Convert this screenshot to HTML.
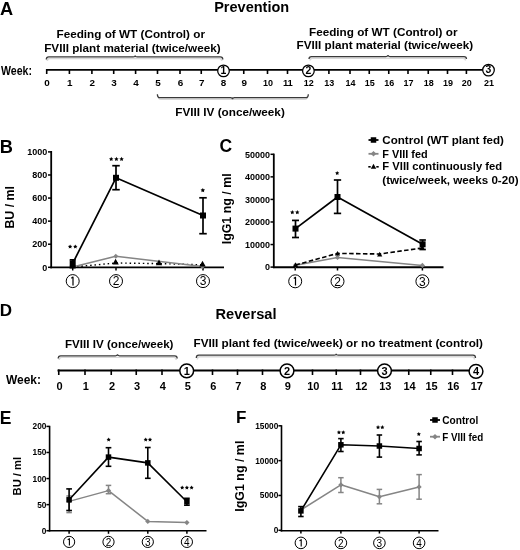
<!DOCTYPE html>
<html><head><meta charset="utf-8"><style>
html,body{margin:0;padding:0;background:#fff;}
body{width:520px;height:550px;overflow:hidden;}
svg{display:block;font-family:"Liberation Sans", sans-serif;will-change:transform;}
</style></head><body>
<svg width="520" height="550" viewBox="0 0 520 550">
<rect width="520" height="550" fill="#fff"/>
<text x="0.0" y="14.7" font-size="18.2" font-weight="bold" text-anchor="start" fill="#000">A</text>
<text x="-0.3" y="152.6" font-size="18.2" font-weight="bold" text-anchor="start" fill="#000">B</text>
<text x="219.6" y="152.3" font-size="17.5" font-weight="bold" text-anchor="start" fill="#000">C</text>
<text x="-0.2" y="315.9" font-size="17" font-weight="bold" text-anchor="start" fill="#000">D</text>
<text x="-0.2" y="423.7" font-size="17.5" font-weight="bold" text-anchor="start" fill="#000">E</text>
<text x="236" y="423.2" font-size="17" font-weight="bold" text-anchor="start" fill="#000">F</text>
<text x="214.2" y="12.0" font-size="14" font-weight="bold" text-anchor="start" fill="#000" textLength="75" lengthAdjust="spacingAndGlyphs">Prevention</text>
<text x="215.5" y="319.2" font-size="14" font-weight="bold" text-anchor="start" fill="#000" textLength="61" lengthAdjust="spacingAndGlyphs">Reversal</text>
<text x="1.0" y="74.8" font-size="12" font-weight="bold" text-anchor="start" fill="#000" textLength="31" lengthAdjust="spacingAndGlyphs">Week:</text>
<line x1="46" y1="69.9" x2="488" y2="69.9" stroke="#000" stroke-width="1.9"/>
<line x1="46.7" y1="69" x2="46.7" y2="74" stroke="#000" stroke-width="1.6"/>
<line x1="69.4" y1="69" x2="69.4" y2="74" stroke="#000" stroke-width="1.6"/>
<line x1="91.9" y1="69" x2="91.9" y2="74" stroke="#000" stroke-width="1.6"/>
<line x1="113.7" y1="69" x2="113.7" y2="74" stroke="#000" stroke-width="1.6"/>
<line x1="135.6" y1="69" x2="135.6" y2="74" stroke="#000" stroke-width="1.6"/>
<line x1="157.5" y1="69" x2="157.5" y2="74" stroke="#000" stroke-width="1.6"/>
<line x1="180" y1="69" x2="180" y2="74" stroke="#000" stroke-width="1.6"/>
<line x1="201.25" y1="69" x2="201.25" y2="74" stroke="#000" stroke-width="1.6"/>
<line x1="243.75" y1="69" x2="243.75" y2="74" stroke="#000" stroke-width="1.6"/>
<line x1="267.5" y1="69" x2="267.5" y2="74" stroke="#000" stroke-width="1.6"/>
<line x1="287.5" y1="69" x2="287.5" y2="74" stroke="#000" stroke-width="1.6"/>
<line x1="328.9" y1="69" x2="328.9" y2="74" stroke="#000" stroke-width="1.6"/>
<line x1="350" y1="69" x2="350" y2="74" stroke="#000" stroke-width="1.6"/>
<line x1="369.25" y1="69" x2="369.25" y2="74" stroke="#000" stroke-width="1.6"/>
<line x1="388.75" y1="69" x2="388.75" y2="74" stroke="#000" stroke-width="1.6"/>
<line x1="408" y1="69" x2="408" y2="74" stroke="#000" stroke-width="1.6"/>
<line x1="428.25" y1="69" x2="428.25" y2="74" stroke="#000" stroke-width="1.6"/>
<line x1="447.5" y1="69" x2="447.5" y2="74" stroke="#000" stroke-width="1.6"/>
<line x1="466.4" y1="69" x2="466.4" y2="74" stroke="#000" stroke-width="1.6"/>
<text x="47.1" y="86.3" font-size="9.9" font-weight="bold" text-anchor="middle" fill="#000">0</text>
<text x="69.80000000000001" y="86.3" font-size="9.9" font-weight="bold" text-anchor="middle" fill="#000">1</text>
<text x="92.30000000000001" y="86.3" font-size="9.9" font-weight="bold" text-anchor="middle" fill="#000">2</text>
<text x="114.10000000000001" y="86.3" font-size="9.9" font-weight="bold" text-anchor="middle" fill="#000">3</text>
<text x="136.0" y="86.3" font-size="9.9" font-weight="bold" text-anchor="middle" fill="#000">4</text>
<text x="157.9" y="86.3" font-size="9.9" font-weight="bold" text-anchor="middle" fill="#000">5</text>
<text x="180.4" y="86.3" font-size="9.9" font-weight="bold" text-anchor="middle" fill="#000">6</text>
<text x="201.65" y="86.3" font-size="9.9" font-weight="bold" text-anchor="middle" fill="#000">7</text>
<text x="223.4" y="86.3" font-size="9.9" font-weight="bold" text-anchor="middle" fill="#000">8</text>
<text x="244.15" y="86.3" font-size="9.9" font-weight="bold" text-anchor="middle" fill="#000">9</text>
<text x="267.9" y="86.3" font-size="9.9" font-weight="bold" text-anchor="middle" fill="#000" textLength="10.0" lengthAdjust="spacingAndGlyphs">10</text>
<text x="287.9" y="86.3" font-size="9.9" font-weight="bold" text-anchor="middle" fill="#000" textLength="10.0" lengthAdjust="spacingAndGlyphs">11</text>
<text x="308.79999999999995" y="86.3" font-size="9.9" font-weight="bold" text-anchor="middle" fill="#000" textLength="10.0" lengthAdjust="spacingAndGlyphs">12</text>
<text x="329.29999999999995" y="86.3" font-size="9.9" font-weight="bold" text-anchor="middle" fill="#000" textLength="10.0" lengthAdjust="spacingAndGlyphs">13</text>
<text x="350.4" y="86.3" font-size="9.9" font-weight="bold" text-anchor="middle" fill="#000" textLength="10.0" lengthAdjust="spacingAndGlyphs">14</text>
<text x="369.65" y="86.3" font-size="9.9" font-weight="bold" text-anchor="middle" fill="#000" textLength="10.0" lengthAdjust="spacingAndGlyphs">15</text>
<text x="389.15" y="86.3" font-size="9.9" font-weight="bold" text-anchor="middle" fill="#000" textLength="10.0" lengthAdjust="spacingAndGlyphs">16</text>
<text x="408.4" y="86.3" font-size="9.9" font-weight="bold" text-anchor="middle" fill="#000" textLength="10.0" lengthAdjust="spacingAndGlyphs">17</text>
<text x="428.65" y="86.3" font-size="9.9" font-weight="bold" text-anchor="middle" fill="#000" textLength="10.0" lengthAdjust="spacingAndGlyphs">18</text>
<text x="447.9" y="86.3" font-size="9.9" font-weight="bold" text-anchor="middle" fill="#000" textLength="10.0" lengthAdjust="spacingAndGlyphs">19</text>
<text x="466.79999999999995" y="86.3" font-size="9.9" font-weight="bold" text-anchor="middle" fill="#000" textLength="10.0" lengthAdjust="spacingAndGlyphs">20</text>
<text x="488.9" y="86.3" font-size="9.9" font-weight="bold" text-anchor="middle" fill="#000" textLength="10.0" lengthAdjust="spacingAndGlyphs">21</text>
<path d="M47.3,60.9 Q47.3,58.5 49.8,58.5 L219.3,58.5 Q221.8,58.5 221.8,60.9" fill="none" stroke="#d8d8d8" stroke-width="1.4"/>
<path d="M46.3,59.4 Q46.3,56.9 48.8,56.9 L133.2,56.9 Q135.2,56.9 135.2,55.4 Q135.2,56.9 137.2,56.9 L220.3,56.9 Q222.8,56.9 222.8,59.4" fill="none" stroke="#3a3a3a" stroke-width="1.3"/>
<path d="M310,60.6 Q310,58.2 312.5,58.2 L463.0,58.2 Q465.5,58.2 465.5,60.6" fill="none" stroke="#d8d8d8" stroke-width="1.4"/>
<path d="M309,59.1 Q309,56.6 311.5,56.6 L386,56.6 Q388,56.6 388,55.1 Q388,56.6 390,56.6 L464.0,56.6 Q466.5,56.6 466.5,59.1" fill="none" stroke="#3a3a3a" stroke-width="1.3"/>
<path d="M158.4,95.7 Q158.4,99.3 160.9,99.3 L304.8,99.3 Q307.3,99.3 307.3,95.7" fill="none" stroke="#d8d8d8" stroke-width="1.4"/>
<path d="M157.4,94.2 Q157.4,97.7 159.9,97.7 L230.5,97.7 Q232.5,97.7 232.5,99.2 Q232.5,97.7 234.5,97.7 L305.8,97.7 Q308.3,97.7 308.3,94.2" fill="none" stroke="#3a3a3a" stroke-width="1.3"/>
<text x="56.5" y="37.5" font-size="10.6" font-weight="bold" text-anchor="start" fill="#000" textLength="148.5" lengthAdjust="spacingAndGlyphs">Feeding of WT (Control) or</text>
<text x="44.2" y="51.6" font-size="10.6" font-weight="bold" text-anchor="start" fill="#000" textLength="176.5" lengthAdjust="spacingAndGlyphs">FVIII plant material (twice/week)</text>
<text x="309" y="35.6" font-size="10.6" font-weight="bold" text-anchor="start" fill="#000" textLength="148.5" lengthAdjust="spacingAndGlyphs">Feeding of WT (Control) or</text>
<text x="296.6" y="49.4" font-size="10.6" font-weight="bold" text-anchor="start" fill="#000" textLength="176.5" lengthAdjust="spacingAndGlyphs">FVIII plant material (twice/week)</text>
<text x="175.3" y="116" font-size="11" font-weight="bold" text-anchor="start" fill="#000" textLength="109.5" lengthAdjust="spacingAndGlyphs">FVIII IV (once/week)</text>
<circle cx="223.5" cy="70.9" r="5.8" fill="#fff" stroke="#000" stroke-width="1.25"/>
<text x="223.5" y="74.10000000000001" font-size="10.4" font-weight="bold" text-anchor="middle" fill="#000">1</text>
<circle cx="308.4" cy="70.9" r="5.8" fill="#fff" stroke="#000" stroke-width="1.25"/>
<text x="308.4" y="74.10000000000001" font-size="10.4" font-weight="bold" text-anchor="middle" fill="#000">2</text>
<circle cx="488.5" cy="70.1" r="5.8" fill="#fff" stroke="#000" stroke-width="1.25"/>
<text x="488.5" y="73.3" font-size="10.4" font-weight="bold" text-anchor="middle" fill="#000">3</text>
<line x1="51.2" y1="151.0" x2="51.2" y2="268.3" stroke="#000" stroke-width="1.8"/>
<line x1="50.3" y1="267.4" x2="224" y2="267.4" stroke="#000" stroke-width="1.9"/>
<line x1="48" y1="267.3" x2="51.2" y2="267.3" stroke="#000" stroke-width="1.5"/>
<text x="47.3" y="270.5" font-size="9.0" font-weight="bold" text-anchor="end" fill="#000">0</text>
<line x1="48" y1="244.22000000000003" x2="51.2" y2="244.22000000000003" stroke="#000" stroke-width="1.5"/>
<text x="47.3" y="247.42000000000002" font-size="9.0" font-weight="bold" text-anchor="end" fill="#000">200</text>
<line x1="48" y1="221.14000000000001" x2="51.2" y2="221.14000000000001" stroke="#000" stroke-width="1.5"/>
<text x="47.3" y="224.34" font-size="9.0" font-weight="bold" text-anchor="end" fill="#000">400</text>
<line x1="48" y1="198.06" x2="51.2" y2="198.06" stroke="#000" stroke-width="1.5"/>
<text x="47.3" y="201.26" font-size="9.0" font-weight="bold" text-anchor="end" fill="#000">600</text>
<line x1="48" y1="174.98000000000002" x2="51.2" y2="174.98000000000002" stroke="#000" stroke-width="1.5"/>
<text x="47.3" y="178.18" font-size="9.0" font-weight="bold" text-anchor="end" fill="#000">800</text>
<line x1="48" y1="151.9" x2="51.2" y2="151.9" stroke="#000" stroke-width="1.5"/>
<text x="47.3" y="155.1" font-size="9.0" font-weight="bold" text-anchor="end" fill="#000">1000</text>
<line x1="72.7" y1="267.3" x2="72.7" y2="270.5" stroke="#000" stroke-width="1.5"/>
<line x1="116" y1="267.3" x2="116" y2="270.5" stroke="#000" stroke-width="1.5"/>
<line x1="203" y1="267.3" x2="203" y2="270.5" stroke="#000" stroke-width="1.5"/>
<circle cx="72.7" cy="281.1" r="6.5" fill="#fff" stroke="#000" stroke-width="1.0"/>
<path d="M71.3,278.3 L73.0,277.1 L73.0,285.40000000000003" fill="none" stroke="#000" stroke-width="1.2" stroke-linejoin="round"/>
<circle cx="116" cy="281.1" r="6.5" fill="#fff" stroke="#000" stroke-width="1.0"/>
<text x="116" y="285.40000000000003" font-size="12" font-weight="normal" text-anchor="middle" fill="#000">2</text>
<circle cx="203" cy="281.1" r="6.5" fill="#fff" stroke="#000" stroke-width="1.0"/>
<text x="203" y="285.40000000000003" font-size="12" font-weight="normal" text-anchor="middle" fill="#000">3</text>
<text x="14.0" y="207.3" font-size="12.2" font-weight="bold" text-anchor="middle" fill="#000" textLength="42.5" lengthAdjust="spacingAndGlyphs" transform="rotate(-90 14.0 207.3)">BU / ml</text>
<polyline points="72.6,267 116,263.0 159,263.6 202.5,264.8" fill="none" stroke="#000" stroke-width="1.4" stroke-linejoin="round" stroke-dasharray="1.5,2.9"/>
<polyline points="72.6,267 115.8,256.3 202.5,266.5" fill="none" stroke="#858585" stroke-width="1.5" stroke-linejoin="round"/>
<path d="M115.8,253.8 L118.3,256.3 L115.8,258.8 L113.3,256.3Z" fill="#858585"/>
<path d="M202.5,264.0 L205.0,266.5 L202.5,269.0 L200.0,266.5Z" fill="#858585"/>
<path d="M72.6,262.8 L75.8,268.56 L69.39999999999999,268.56Z" fill="#000"/>
<path d="M115.6,258.8 L118.8,264.56 L112.39999999999999,264.56Z" fill="#000"/>
<path d="M159,259.40000000000003 L162.2,265.16 L155.8,265.16Z" fill="#000"/>
<path d="M202.5,260.8 L205.7,266.56 L199.3,266.56Z" fill="#000"/>
<polyline points="72.7,263.3 116,177.8 203,215.5" fill="none" stroke="#000" stroke-width="1.7" stroke-linejoin="round"/>
<line x1="116" y1="165.7" x2="116" y2="189.7" stroke="#000" stroke-width="1.7"/>
<line x1="112.25" y1="165.7" x2="119.75" y2="165.7" stroke="#000" stroke-width="1.7"/>
<line x1="112.25" y1="189.7" x2="119.75" y2="189.7" stroke="#000" stroke-width="1.7"/>
<line x1="203" y1="197.8" x2="203" y2="233.7" stroke="#000" stroke-width="1.7"/>
<line x1="199.25" y1="197.8" x2="206.75" y2="197.8" stroke="#000" stroke-width="1.7"/>
<line x1="199.25" y1="233.7" x2="206.75" y2="233.7" stroke="#000" stroke-width="1.7"/>
<line x1="72.7" y1="259.8" x2="72.7" y2="266.5" stroke="#000" stroke-width="1.6"/>
<line x1="69.7" y1="259.8" x2="75.7" y2="259.8" stroke="#000" stroke-width="1.6"/>
<line x1="69.7" y1="266.5" x2="75.7" y2="266.5" stroke="#000" stroke-width="1.6"/>
<rect x="69.70" y="260.30" width="6" height="6" fill="#000"/>
<rect x="113.00" y="174.80" width="6" height="6" fill="#000"/>
<rect x="200.00" y="212.50" width="6" height="6" fill="#000"/>
<polygon points="70.10,244.42 70.78,245.79 72.29,246.01 71.19,247.08 71.45,248.58 70.10,247.87 68.75,248.58 69.01,247.08 67.91,246.01 69.42,245.79" fill="#000"/>
<polygon points="75.30,244.42 75.98,245.79 77.49,246.01 76.39,247.08 76.65,248.58 75.30,247.87 73.95,248.58 74.21,247.08 73.11,246.01 74.62,245.79" fill="#000"/>
<polygon points="111.20,156.82 111.88,158.19 113.39,158.41 112.29,159.48 112.55,160.98 111.20,160.27 109.85,160.98 110.11,159.48 109.01,158.41 110.52,158.19" fill="#000"/>
<polygon points="116.40,156.82 117.08,158.19 118.59,158.41 117.49,159.48 117.75,160.98 116.40,160.27 115.05,160.98 115.31,159.48 114.21,158.41 115.72,158.19" fill="#000"/>
<polygon points="121.60,156.82 122.28,158.19 123.79,158.41 122.69,159.48 122.95,160.98 121.60,160.27 120.25,160.98 120.51,159.48 119.41,158.41 120.92,158.19" fill="#000"/>
<polygon points="202.80,187.97 203.49,189.37 205.03,189.60 203.92,190.69 204.18,192.23 202.80,191.50 201.42,192.23 201.68,190.69 200.57,189.60 202.11,189.37" fill="#000"/>
<line x1="273.8" y1="153.6" x2="273.8" y2="268.1" stroke="#000" stroke-width="1.8"/>
<line x1="272.9" y1="267.2" x2="443.5" y2="267.2" stroke="#000" stroke-width="1.9"/>
<line x1="270.5" y1="267.1" x2="273.8" y2="267.1" stroke="#000" stroke-width="1.5"/>
<text x="270.0" y="270.3" font-size="9.0" font-weight="bold" text-anchor="end" fill="#000">0</text>
<line x1="270.5" y1="244.54000000000002" x2="273.8" y2="244.54000000000002" stroke="#000" stroke-width="1.5"/>
<text x="270.0" y="247.74" font-size="9.0" font-weight="bold" text-anchor="end" fill="#000">10000</text>
<line x1="270.5" y1="221.98000000000002" x2="273.8" y2="221.98000000000002" stroke="#000" stroke-width="1.5"/>
<text x="270.0" y="225.18" font-size="9.0" font-weight="bold" text-anchor="end" fill="#000">20000</text>
<line x1="270.5" y1="199.42000000000002" x2="273.8" y2="199.42000000000002" stroke="#000" stroke-width="1.5"/>
<text x="270.0" y="202.62" font-size="9.0" font-weight="bold" text-anchor="end" fill="#000">30000</text>
<line x1="270.5" y1="176.86" x2="273.8" y2="176.86" stroke="#000" stroke-width="1.5"/>
<text x="270.0" y="180.06" font-size="9.0" font-weight="bold" text-anchor="end" fill="#000">40000</text>
<line x1="270.5" y1="154.3" x2="273.8" y2="154.3" stroke="#000" stroke-width="1.5"/>
<text x="270.0" y="157.5" font-size="9.0" font-weight="bold" text-anchor="end" fill="#000">50000</text>
<line x1="295.2" y1="267.1" x2="295.2" y2="270.5" stroke="#000" stroke-width="1.5"/>
<line x1="337.5" y1="267.1" x2="337.5" y2="270.5" stroke="#000" stroke-width="1.5"/>
<line x1="422.4" y1="267.1" x2="422.4" y2="270.5" stroke="#000" stroke-width="1.5"/>
<circle cx="295.2" cy="281.3" r="6.5" fill="#fff" stroke="#000" stroke-width="1.0"/>
<path d="M293.8,278.5 L295.5,277.3 L295.5,285.6" fill="none" stroke="#000" stroke-width="1.2" stroke-linejoin="round"/>
<circle cx="337.5" cy="281.3" r="6.5" fill="#fff" stroke="#000" stroke-width="1.0"/>
<text x="337.5" y="285.6" font-size="12" font-weight="normal" text-anchor="middle" fill="#000">2</text>
<circle cx="422.4" cy="281.3" r="6.5" fill="#fff" stroke="#000" stroke-width="1.0"/>
<text x="422.4" y="285.6" font-size="12" font-weight="normal" text-anchor="middle" fill="#000">3</text>
<text x="231.4" y="208.8" font-size="12.2" font-weight="bold" text-anchor="middle" fill="#000" textLength="71" lengthAdjust="spacingAndGlyphs" transform="rotate(-90 231.4 208.8)">IgG1 ng / ml</text>
<polyline points="295.5,265.2 337.5,257.4 422.4,265.4" fill="none" stroke="#858585" stroke-width="1.5" stroke-linejoin="round"/>
<path d="M295.5,262.59999999999997 L298.1,265.2 L295.5,267.8 L292.9,265.2Z" fill="#858585"/>
<path d="M337.5,254.79999999999998 L340.1,257.4 L337.5,260.0 L334.9,257.4Z" fill="#858585"/>
<path d="M422.4,262.79999999999995 L425.0,265.4 L422.4,268.0 L419.79999999999995,265.4Z" fill="#858585"/>
<polyline points="295.5,265.0 337.5,253.4 379.7,254.0 422.2,248.0" fill="none" stroke="#000" stroke-width="1.6" stroke-linejoin="round" stroke-dasharray="4.5,2.4"/>
<path d="M295.5,262.4 L298.1,267.08 L292.9,267.08Z" fill="#000"/>
<path d="M337.5,250.9 L340.1,255.58 L334.9,255.58Z" fill="#000"/>
<path d="M379.7,251.8 L382.3,256.48 L377.09999999999997,256.48Z" fill="#000"/>
<path d="M422.4,245.20000000000002 L425.0,249.88000000000002 L419.79999999999995,249.88000000000002Z" fill="#000"/>
<polyline points="295.5,228.6 337.5,197 422.6,244.3" fill="none" stroke="#000" stroke-width="1.7" stroke-linejoin="round"/>
<line x1="295.5" y1="220.4" x2="295.5" y2="237.5" stroke="#000" stroke-width="1.7"/>
<line x1="292.0" y1="220.4" x2="299.0" y2="220.4" stroke="#000" stroke-width="1.7"/>
<line x1="292.0" y1="237.5" x2="299.0" y2="237.5" stroke="#000" stroke-width="1.7"/>
<line x1="337.5" y1="180" x2="337.5" y2="213.4" stroke="#000" stroke-width="1.7"/>
<line x1="333.85" y1="180" x2="341.15" y2="180" stroke="#000" stroke-width="1.7"/>
<line x1="333.85" y1="213.4" x2="341.15" y2="213.4" stroke="#000" stroke-width="1.7"/>
<line x1="422.6" y1="240" x2="422.6" y2="249.5" stroke="#000" stroke-width="1.7"/>
<line x1="419.35" y1="240" x2="425.85" y2="240" stroke="#000" stroke-width="1.7"/>
<line x1="419.35" y1="249.5" x2="425.85" y2="249.5" stroke="#000" stroke-width="1.7"/>
<rect x="292.50" y="225.60" width="6" height="6" fill="#000"/>
<rect x="334.50" y="194.00" width="6" height="6" fill="#000"/>
<rect x="419.60" y="241.30" width="6" height="6" fill="#000"/>
<polygon points="292.30,210.06 292.96,211.40 294.44,211.62 293.37,212.66 293.62,214.14 292.30,213.44 290.98,214.14 291.23,212.66 290.16,211.62 291.64,211.40" fill="#000"/>
<polygon points="297.30,210.06 297.96,211.40 299.44,211.62 298.37,212.66 298.62,214.14 297.30,213.44 295.98,214.14 296.23,212.66 295.16,211.62 296.64,211.40" fill="#000"/>
<polygon points="337.20,170.91 337.85,172.22 339.29,172.43 338.25,173.45 338.49,174.89 337.20,174.21 335.91,174.89 336.15,173.45 335.11,172.43 336.55,172.22" fill="#000"/>
<line x1="368.5" y1="140" x2="378.5" y2="140" stroke="#000" stroke-width="1.8"/>
<rect x="370.75" y="137.25" width="5.5" height="5.5" fill="#000"/>
<line x1="368.5" y1="153.8" x2="378.5" y2="153.8" stroke="#858585" stroke-width="1.8"/>
<path d="M373.5,151.0 L376.3,153.8 L373.5,156.60000000000002 L370.7,153.8Z" fill="#858585"/>
<line x1="368.3" y1="166.8" x2="370.7" y2="166.8" stroke="#000" stroke-width="1.6"/>
<line x1="376.3" y1="166.8" x2="378.7" y2="166.8" stroke="#000" stroke-width="1.6"/>
<path d="M373.5,163.8 L376.2,168.66 L370.8,168.66Z" fill="#000"/>
<text x="382.3" y="143.7" font-size="10.2" font-weight="bold" text-anchor="start" fill="#000" textLength="121.6" lengthAdjust="spacingAndGlyphs">Control (WT plant fed)</text>
<text x="382.3" y="157.6" font-size="10.2" font-weight="bold" text-anchor="start" fill="#000" textLength="45.4" lengthAdjust="spacingAndGlyphs">F VIII fed</text>
<text x="382.3" y="170.1" font-size="10.2" font-weight="bold" text-anchor="start" fill="#000" textLength="119.8" lengthAdjust="spacingAndGlyphs">F VIII continuously fed</text>
<text x="382.3" y="184.0" font-size="10.2" font-weight="bold" text-anchor="start" fill="#000" textLength="136.2" lengthAdjust="spacingAndGlyphs">(twice/week, weeks 0-20)</text>
<text x="6" y="383.8" font-size="12.3" font-weight="bold" text-anchor="start" fill="#000" textLength="35" lengthAdjust="spacingAndGlyphs">Week:</text>
<line x1="57.5" y1="370.5" x2="476" y2="370.5" stroke="#000" stroke-width="1.9"/>
<line x1="58.75" y1="369.5" x2="58.75" y2="375" stroke="#000" stroke-width="1.6"/>
<line x1="85" y1="369.5" x2="85" y2="375" stroke="#000" stroke-width="1.6"/>
<line x1="111.25" y1="369.5" x2="111.25" y2="375" stroke="#000" stroke-width="1.6"/>
<line x1="136.25" y1="369.5" x2="136.25" y2="375" stroke="#000" stroke-width="1.6"/>
<line x1="162" y1="369.5" x2="162" y2="375" stroke="#000" stroke-width="1.6"/>
<line x1="212.5" y1="369.5" x2="212.5" y2="375" stroke="#000" stroke-width="1.6"/>
<line x1="237.5" y1="369.5" x2="237.5" y2="375" stroke="#000" stroke-width="1.6"/>
<line x1="262.5" y1="369.5" x2="262.5" y2="375" stroke="#000" stroke-width="1.6"/>
<line x1="312.5" y1="369.5" x2="312.5" y2="375" stroke="#000" stroke-width="1.6"/>
<line x1="336.25" y1="369.5" x2="336.25" y2="375" stroke="#000" stroke-width="1.6"/>
<line x1="360.5" y1="369.5" x2="360.5" y2="375" stroke="#000" stroke-width="1.6"/>
<line x1="408.75" y1="369.5" x2="408.75" y2="375" stroke="#000" stroke-width="1.6"/>
<line x1="430.75" y1="369.5" x2="430.75" y2="375" stroke="#000" stroke-width="1.6"/>
<line x1="452.5" y1="369.5" x2="452.5" y2="375" stroke="#000" stroke-width="1.6"/>
<text x="59.55" y="389.6" font-size="11" font-weight="bold" text-anchor="middle" fill="#000">0</text>
<text x="85.8" y="389.6" font-size="11" font-weight="bold" text-anchor="middle" fill="#000">1</text>
<text x="112.05" y="389.6" font-size="11" font-weight="bold" text-anchor="middle" fill="#000">2</text>
<text x="137.05" y="389.6" font-size="11" font-weight="bold" text-anchor="middle" fill="#000">3</text>
<text x="162.8" y="389.6" font-size="11" font-weight="bold" text-anchor="middle" fill="#000">4</text>
<text x="187.8" y="389.6" font-size="11" font-weight="bold" text-anchor="middle" fill="#000">5</text>
<text x="213.3" y="389.6" font-size="11" font-weight="bold" text-anchor="middle" fill="#000">6</text>
<text x="238.3" y="389.6" font-size="11" font-weight="bold" text-anchor="middle" fill="#000">7</text>
<text x="263.3" y="389.6" font-size="11" font-weight="bold" text-anchor="middle" fill="#000">8</text>
<text x="287.8" y="389.6" font-size="11" font-weight="bold" text-anchor="middle" fill="#000">9</text>
<text x="313.3" y="389.6" font-size="11" font-weight="bold" text-anchor="middle" fill="#000">10</text>
<text x="337.05" y="389.6" font-size="11" font-weight="bold" text-anchor="middle" fill="#000">11</text>
<text x="361.3" y="389.6" font-size="11" font-weight="bold" text-anchor="middle" fill="#000">12</text>
<text x="385.3" y="389.6" font-size="11" font-weight="bold" text-anchor="middle" fill="#000">13</text>
<text x="409.55" y="389.6" font-size="11" font-weight="bold" text-anchor="middle" fill="#000">14</text>
<text x="431.55" y="389.6" font-size="11" font-weight="bold" text-anchor="middle" fill="#000">15</text>
<text x="453.3" y="389.6" font-size="11" font-weight="bold" text-anchor="middle" fill="#000">16</text>
<text x="476.8" y="389.6" font-size="11" font-weight="bold" text-anchor="middle" fill="#000">17</text>
<path d="M59.2,360.1 Q59.2,357.40000000000003 61.7,357.40000000000003 L173.7,357.40000000000003 Q176.2,357.40000000000003 176.2,360.1" fill="none" stroke="#d8d8d8" stroke-width="1.4"/>
<path d="M58.2,358.6 Q58.2,355.8 60.7,355.8 L115.5,355.8 Q117.5,355.8 117.5,354.3 Q117.5,355.8 119.5,355.8 L174.7,355.8 Q177.2,355.8 177.2,358.6" fill="none" stroke="#3a3a3a" stroke-width="1.3"/>
<path d="M197.3,359.5 Q197.3,356.8 199.8,356.8 L472.0,356.8 Q474.5,356.8 474.5,359.5" fill="none" stroke="#d8d8d8" stroke-width="1.4"/>
<path d="M196.3,358.0 Q196.3,355.2 198.8,355.2 L334.2,355.2 Q336.2,355.2 336.2,353.7 Q336.2,355.2 338.2,355.2 L473.0,355.2 Q475.5,355.2 475.5,358.0" fill="none" stroke="#3a3a3a" stroke-width="1.3"/>
<text x="65" y="348" font-size="11.6" font-weight="bold" text-anchor="start" fill="#000" textLength="108.5" lengthAdjust="spacingAndGlyphs">FVIII IV (once/week)</text>
<text x="193.5" y="347.2" font-size="11.6" font-weight="bold" text-anchor="start" fill="#000" textLength="289.5" lengthAdjust="spacingAndGlyphs">FVIII plant fed (twice/week) or no treatment (control)</text>
<circle cx="186.7" cy="370.8" r="6.9" fill="#fff" stroke="#000" stroke-width="1.5"/>
<text x="186.7" y="374.75" font-size="11" font-weight="bold" text-anchor="middle" fill="#000">1</text>
<circle cx="287" cy="370.8" r="6.9" fill="#fff" stroke="#000" stroke-width="1.5"/>
<text x="287" y="374.75" font-size="11" font-weight="bold" text-anchor="middle" fill="#000">2</text>
<circle cx="384.5" cy="370.8" r="6.9" fill="#fff" stroke="#000" stroke-width="1.5"/>
<text x="384.5" y="374.75" font-size="11" font-weight="bold" text-anchor="middle" fill="#000">3</text>
<circle cx="476" cy="371.3" r="6.9" fill="#fff" stroke="#000" stroke-width="1.5"/>
<text x="476" y="375.25" font-size="11" font-weight="bold" text-anchor="middle" fill="#000">4</text>
<line x1="49.6" y1="425.8" x2="49.6" y2="531.5" stroke="#000" stroke-width="1.6"/>
<line x1="48.6" y1="530.8" x2="206.5" y2="530.8" stroke="#000" stroke-width="1.6"/>
<line x1="46.4" y1="530.7" x2="49.5" y2="530.7" stroke="#000" stroke-width="1.5"/>
<text x="46.4" y="533.7" font-size="8.3" font-weight="bold" text-anchor="end" fill="#000">0</text>
<line x1="46.4" y1="504.625" x2="49.5" y2="504.625" stroke="#000" stroke-width="1.5"/>
<text x="46.4" y="507.625" font-size="8.3" font-weight="bold" text-anchor="end" fill="#000">50</text>
<line x1="46.4" y1="478.55" x2="49.5" y2="478.55" stroke="#000" stroke-width="1.5"/>
<text x="46.4" y="481.55" font-size="8.3" font-weight="bold" text-anchor="end" fill="#000">100</text>
<line x1="46.4" y1="452.475" x2="49.5" y2="452.475" stroke="#000" stroke-width="1.5"/>
<text x="46.4" y="455.475" font-size="8.3" font-weight="bold" text-anchor="end" fill="#000">150</text>
<line x1="46.4" y1="426.4" x2="49.5" y2="426.4" stroke="#000" stroke-width="1.5"/>
<text x="46.4" y="429.4" font-size="8.3" font-weight="bold" text-anchor="end" fill="#000">200</text>
<line x1="69.1" y1="530.7" x2="69.1" y2="533.8" stroke="#000" stroke-width="1.5"/>
<line x1="108.5" y1="530.7" x2="108.5" y2="533.8" stroke="#000" stroke-width="1.5"/>
<line x1="147.8" y1="530.7" x2="147.8" y2="533.8" stroke="#000" stroke-width="1.5"/>
<line x1="186.9" y1="530.7" x2="186.9" y2="533.8" stroke="#000" stroke-width="1.5"/>
<circle cx="69.1" cy="541.9" r="5.6" fill="#fff" stroke="#000" stroke-width="1.0"/>
<path d="M67.69999999999999,539.85 L69.39999999999999,538.65 L69.39999999999999,545.4499999999999" fill="none" stroke="#000" stroke-width="1.1" stroke-linejoin="round"/>
<circle cx="108.5" cy="541.9" r="5.6" fill="#fff" stroke="#000" stroke-width="1.0"/>
<text x="108.5" y="545.5" font-size="10" font-weight="normal" text-anchor="middle" fill="#000">2</text>
<circle cx="147.8" cy="541.9" r="5.6" fill="#fff" stroke="#000" stroke-width="1.0"/>
<text x="147.8" y="545.5" font-size="10" font-weight="normal" text-anchor="middle" fill="#000">3</text>
<circle cx="186.9" cy="541.9" r="5.6" fill="#fff" stroke="#000" stroke-width="1.0"/>
<text x="186.9" y="545.5" font-size="10" font-weight="normal" text-anchor="middle" fill="#000">4</text>
<text x="21.1" y="476.15" font-size="11.1" font-weight="bold" text-anchor="middle" fill="#000" textLength="38.5" lengthAdjust="spacingAndGlyphs" transform="rotate(-90 21.1 476.15)">BU / ml</text>
<polyline points="69.1,501.4 108.5,490.6 147.8,521.4 186.9,522.6" fill="none" stroke="#858585" stroke-width="1.5" stroke-linejoin="round"/>
<line x1="69.1" y1="496" x2="69.1" y2="512.6" stroke="#858585" stroke-width="1.5"/>
<line x1="66.35" y1="496" x2="71.85" y2="496" stroke="#858585" stroke-width="1.5"/>
<line x1="66.35" y1="512.6" x2="71.85" y2="512.6" stroke="#858585" stroke-width="1.5"/>
<line x1="108.5" y1="485.4" x2="108.5" y2="493.7" stroke="#858585" stroke-width="1.5"/>
<line x1="105.75" y1="485.4" x2="111.25" y2="485.4" stroke="#858585" stroke-width="1.5"/>
<line x1="105.75" y1="493.7" x2="111.25" y2="493.7" stroke="#858585" stroke-width="1.5"/>
<path d="M69.1,498.79999999999995 L71.69999999999999,501.4 L69.1,504.0 L66.5,501.4Z" fill="#858585"/>
<path d="M108.5,488.0 L111.1,490.6 L108.5,493.20000000000005 L105.9,490.6Z" fill="#858585"/>
<path d="M147.8,518.8 L150.4,521.4 L147.8,524.0 L145.20000000000002,521.4Z" fill="#858585"/>
<path d="M186.9,520.0 L189.5,522.6 L186.9,525.2 L184.3,522.6Z" fill="#858585"/>
<polyline points="69.1,499.8 108.5,457.1 147.8,462.9 186.9,501.7" fill="none" stroke="#000" stroke-width="1.6" stroke-linejoin="round"/>
<line x1="69.1" y1="488.9" x2="69.1" y2="510.5" stroke="#000" stroke-width="1.6"/>
<line x1="66.25" y1="488.9" x2="71.94999999999999" y2="488.9" stroke="#000" stroke-width="1.6"/>
<line x1="66.25" y1="510.5" x2="71.94999999999999" y2="510.5" stroke="#000" stroke-width="1.6"/>
<line x1="108.5" y1="447.7" x2="108.5" y2="466.3" stroke="#000" stroke-width="1.6"/>
<line x1="105.65" y1="447.7" x2="111.35" y2="447.7" stroke="#000" stroke-width="1.6"/>
<line x1="105.65" y1="466.3" x2="111.35" y2="466.3" stroke="#000" stroke-width="1.6"/>
<line x1="147.8" y1="447.5" x2="147.8" y2="478.3" stroke="#000" stroke-width="1.6"/>
<line x1="144.95000000000002" y1="447.5" x2="150.65" y2="447.5" stroke="#000" stroke-width="1.6"/>
<line x1="144.95000000000002" y1="478.3" x2="150.65" y2="478.3" stroke="#000" stroke-width="1.6"/>
<line x1="186.9" y1="498.3" x2="186.9" y2="505.2" stroke="#000" stroke-width="1.6"/>
<line x1="184.05" y1="498.3" x2="189.75" y2="498.3" stroke="#000" stroke-width="1.6"/>
<line x1="184.05" y1="505.2" x2="189.75" y2="505.2" stroke="#000" stroke-width="1.6"/>
<rect x="66.35" y="497.05" width="5.5" height="5.5" fill="#000"/>
<rect x="105.75" y="454.35" width="5.5" height="5.5" fill="#000"/>
<rect x="145.05" y="460.15" width="5.5" height="5.5" fill="#000"/>
<rect x="184.15" y="498.95" width="5.5" height="5.5" fill="#000"/>
<polygon points="108.65,437.41 109.30,438.72 110.74,438.93 109.70,439.95 109.94,441.39 108.65,440.71 107.36,441.39 107.60,439.95 106.56,438.93 108.00,438.72" fill="#000"/>
<polygon points="145.70,437.41 146.35,438.72 147.79,438.93 146.75,439.95 146.99,441.39 145.70,440.71 144.41,441.39 144.65,439.95 143.61,438.93 145.05,438.72" fill="#000"/>
<polygon points="150.00,437.41 150.65,438.72 152.09,438.93 151.05,439.95 151.29,441.39 150.00,440.71 148.71,441.39 148.95,439.95 147.91,438.93 149.35,438.72" fill="#000"/>
<polygon points="182.20,485.41 182.85,486.72 184.29,486.93 183.25,487.95 183.49,489.39 182.20,488.71 180.91,489.39 181.15,487.95 180.11,486.93 181.55,486.72" fill="#000"/>
<polygon points="186.90,485.41 187.55,486.72 188.99,486.93 187.95,487.95 188.19,489.39 186.90,488.71 185.61,489.39 185.85,487.95 184.81,486.93 186.25,486.72" fill="#000"/>
<polygon points="191.60,485.41 192.25,486.72 193.69,486.93 192.65,487.95 192.89,489.39 191.60,488.71 190.31,489.39 190.55,487.95 189.51,486.93 190.95,486.72" fill="#000"/>
<line x1="281.5" y1="425.2" x2="281.5" y2="531.5" stroke="#000" stroke-width="1.6"/>
<line x1="280.6" y1="530.7" x2="438.5" y2="530.7" stroke="#000" stroke-width="1.6"/>
<line x1="278.4" y1="530.3" x2="281.5" y2="530.3" stroke="#000" stroke-width="1.5"/>
<text x="278.3" y="533.3" font-size="8.3" font-weight="bold" text-anchor="end" fill="#000">0</text>
<line x1="278.4" y1="495.46666666666664" x2="281.5" y2="495.46666666666664" stroke="#000" stroke-width="1.5"/>
<text x="278.3" y="498.46666666666664" font-size="8.3" font-weight="bold" text-anchor="end" fill="#000">5000</text>
<line x1="278.4" y1="460.6333333333333" x2="281.5" y2="460.6333333333333" stroke="#000" stroke-width="1.5"/>
<text x="278.3" y="463.6333333333333" font-size="8.3" font-weight="bold" text-anchor="end" fill="#000">10000</text>
<line x1="278.4" y1="425.8" x2="281.5" y2="425.8" stroke="#000" stroke-width="1.5"/>
<text x="278.3" y="428.8" font-size="8.3" font-weight="bold" text-anchor="end" fill="#000">15000</text>
<line x1="300.9" y1="530.3" x2="300.9" y2="533.5" stroke="#000" stroke-width="1.5"/>
<line x1="340.9" y1="530.3" x2="340.9" y2="533.5" stroke="#000" stroke-width="1.5"/>
<line x1="379.4" y1="530.3" x2="379.4" y2="533.5" stroke="#000" stroke-width="1.5"/>
<line x1="419.1" y1="530.3" x2="419.1" y2="533.5" stroke="#000" stroke-width="1.5"/>
<circle cx="300.9" cy="542.9" r="5.8" fill="#fff" stroke="#000" stroke-width="1.0"/>
<path d="M299.5,540.85 L301.2,539.65 L301.2,546.4499999999999" fill="none" stroke="#000" stroke-width="1.1" stroke-linejoin="round"/>
<circle cx="340.9" cy="542.9" r="5.8" fill="#fff" stroke="#000" stroke-width="1.0"/>
<text x="340.9" y="546.5" font-size="10" font-weight="normal" text-anchor="middle" fill="#000">2</text>
<circle cx="379.4" cy="542.9" r="5.8" fill="#fff" stroke="#000" stroke-width="1.0"/>
<text x="379.4" y="546.5" font-size="10" font-weight="normal" text-anchor="middle" fill="#000">3</text>
<circle cx="419.1" cy="542.9" r="5.8" fill="#fff" stroke="#000" stroke-width="1.0"/>
<text x="419.1" y="546.5" font-size="10" font-weight="normal" text-anchor="middle" fill="#000">4</text>
<text x="244.0" y="476.15" font-size="12.2" font-weight="bold" text-anchor="middle" fill="#000" textLength="71" lengthAdjust="spacingAndGlyphs" transform="rotate(-90 244.0 476.15)">IgG1 ng / ml</text>
<polyline points="300.9,510 340.9,484.8 379.4,496.8 419.1,486.9" fill="none" stroke="#858585" stroke-width="1.5" stroke-linejoin="round"/>
<line x1="340.9" y1="477.7" x2="340.9" y2="492.5" stroke="#858585" stroke-width="1.5"/>
<line x1="338.15" y1="477.7" x2="343.65" y2="477.7" stroke="#858585" stroke-width="1.5"/>
<line x1="338.15" y1="492.5" x2="343.65" y2="492.5" stroke="#858585" stroke-width="1.5"/>
<line x1="379.4" y1="489.4" x2="379.4" y2="503.8" stroke="#858585" stroke-width="1.5"/>
<line x1="376.65" y1="489.4" x2="382.15" y2="489.4" stroke="#858585" stroke-width="1.5"/>
<line x1="376.65" y1="503.8" x2="382.15" y2="503.8" stroke="#858585" stroke-width="1.5"/>
<line x1="419.1" y1="474.6" x2="419.1" y2="499.2" stroke="#858585" stroke-width="1.5"/>
<line x1="416.35" y1="474.6" x2="421.85" y2="474.6" stroke="#858585" stroke-width="1.5"/>
<line x1="416.35" y1="499.2" x2="421.85" y2="499.2" stroke="#858585" stroke-width="1.5"/>
<path d="M300.9,507.4 L303.5,510 L300.9,512.6 L298.29999999999995,510Z" fill="#858585"/>
<path d="M340.9,482.2 L343.5,484.8 L340.9,487.40000000000003 L338.29999999999995,484.8Z" fill="#858585"/>
<path d="M379.4,494.2 L382.0,496.8 L379.4,499.40000000000003 L376.79999999999995,496.8Z" fill="#858585"/>
<path d="M419.1,484.29999999999995 L421.70000000000005,486.9 L419.1,489.5 L416.5,486.9Z" fill="#858585"/>
<polyline points="300.9,510.9 340.9,444.8 379.4,446 419.1,448.5" fill="none" stroke="#000" stroke-width="1.6" stroke-linejoin="round"/>
<line x1="300.9" y1="506.6" x2="300.9" y2="516.5" stroke="#000" stroke-width="1.6"/>
<line x1="298.15" y1="506.6" x2="303.65" y2="506.6" stroke="#000" stroke-width="1.6"/>
<line x1="298.15" y1="516.5" x2="303.65" y2="516.5" stroke="#000" stroke-width="1.6"/>
<line x1="340.9" y1="438.6" x2="340.9" y2="451.5" stroke="#000" stroke-width="1.6"/>
<line x1="338.15" y1="438.6" x2="343.65" y2="438.6" stroke="#000" stroke-width="1.6"/>
<line x1="338.15" y1="451.5" x2="343.65" y2="451.5" stroke="#000" stroke-width="1.6"/>
<line x1="379.4" y1="435" x2="379.4" y2="457.1" stroke="#000" stroke-width="1.6"/>
<line x1="376.65" y1="435" x2="382.15" y2="435" stroke="#000" stroke-width="1.6"/>
<line x1="376.65" y1="457.1" x2="382.15" y2="457.1" stroke="#000" stroke-width="1.6"/>
<line x1="419.1" y1="441.5" x2="419.1" y2="454.9" stroke="#000" stroke-width="1.6"/>
<line x1="416.35" y1="441.5" x2="421.85" y2="441.5" stroke="#000" stroke-width="1.6"/>
<line x1="416.35" y1="454.9" x2="421.85" y2="454.9" stroke="#000" stroke-width="1.6"/>
<rect x="298.15" y="508.15" width="5.5" height="5.5" fill="#000"/>
<rect x="338.15" y="442.05" width="5.5" height="5.5" fill="#000"/>
<rect x="376.65" y="443.25" width="5.5" height="5.5" fill="#000"/>
<rect x="416.35" y="445.75" width="5.5" height="5.5" fill="#000"/>
<polygon points="338.95,430.31 339.60,431.62 341.04,431.83 340.00,432.85 340.24,434.29 338.95,433.61 337.66,434.29 337.90,432.85 336.86,431.83 338.30,431.62" fill="#000"/>
<polygon points="343.25,430.31 343.90,431.62 345.34,431.83 344.30,432.85 344.54,434.29 343.25,433.61 341.96,434.29 342.20,432.85 341.16,431.83 342.60,431.62" fill="#000"/>
<polygon points="378.05,425.11 378.70,426.42 380.14,426.63 379.10,427.65 379.34,429.09 378.05,428.41 376.76,429.09 377.00,427.65 375.96,426.63 377.40,426.42" fill="#000"/>
<polygon points="382.35,425.11 383.00,426.42 384.44,426.63 383.40,427.65 383.64,429.09 382.35,428.41 381.06,429.09 381.30,427.65 380.26,426.63 381.70,426.42" fill="#000"/>
<polygon points="418.80,432.01 419.45,433.32 420.89,433.53 419.85,434.55 420.09,435.99 418.80,435.31 417.51,435.99 417.75,434.55 416.71,433.53 418.15,433.32" fill="#000"/>
<line x1="430" y1="420" x2="440" y2="420" stroke="#000" stroke-width="1.8"/>
<rect x="432.25" y="417.25" width="5.5" height="5.5" fill="#000"/>
<line x1="430" y1="436.7" x2="440" y2="436.7" stroke="#858585" stroke-width="1.8"/>
<path d="M435,433.9 L437.8,436.7 L435,439.5 L432.2,436.7Z" fill="#858585"/>
<text x="442.3" y="423.8" font-size="10.5" font-weight="bold" text-anchor="start" fill="#000" textLength="36" lengthAdjust="spacingAndGlyphs">Control</text>
<text x="442.3" y="440.6" font-size="10.5" font-weight="bold" text-anchor="start" fill="#000" textLength="41" lengthAdjust="spacingAndGlyphs">F VIII fed</text>
</svg>
</body></html>
